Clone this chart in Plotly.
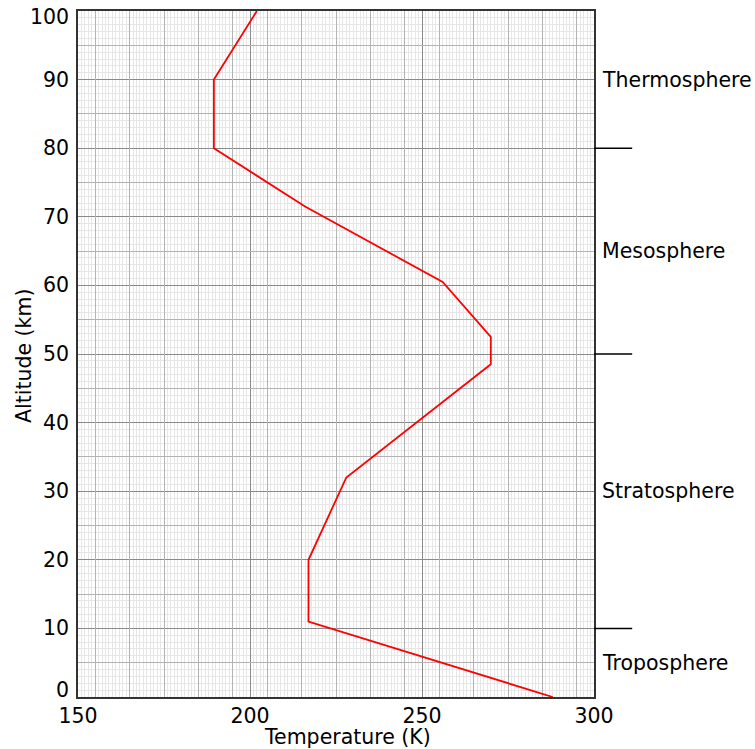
import plotly.graph_objects as go

# Temperature profile of the standard atmosphere
temperature_k = [288, 217, 217, 228, 270, 270, 256, 216, 189.5, 189.5, 202]
altitude_km = [0, 11, 20, 32, 48.5, 52.5, 60.5, 71.5, 80, 90, 100]

# Layer names and the altitudes where they are labelled
layer_names = ["Thermosphere", "Mesosphere", "Stratosphere", "Troposphere"]
layer_label_km = [90, 65, 30, 5]
# Boundaries between layers
boundary_km = [80, 50, 10]

x_ticks = [150, 200, 250, 300]
y_ticks = list(range(0, 101, 10))

FONT = "DejaVu Sans"
FS = 20.5

fig = go.Figure()

fig.add_trace(go.Scatter(
    x=temperature_k, y=altitude_km, mode="lines",
    line=dict(color="#ff0000", width=1.8),
    showlegend=False, hoverinfo="skip", cliponaxis=True,
))
# helper trace so the overlaid 5-unit grid axes are drawn
fig.add_trace(go.Scatter(x=[None], y=[None], xaxis="x2", yaxis="y2",
                         showlegend=False, hoverinfo="skip"))

common_minor = dict(dtick=1, showgrid=True, gridcolor="#e6e6e6", gridwidth=1, ticks="")

fig.update_layout(
    width=755, height=749,
    margin=dict(l=78, r=161, t=11, b=52),
    paper_bgcolor="white", plot_bgcolor="white",
    font=dict(family=FONT, size=FS, color="black"),
    xaxis=dict(
        range=[150, 300], tickvals=x_ticks, ticktext=[str(v) for v in x_ticks],
        showgrid=True, gridcolor="#8a8a8a", gridwidth=1,
        minor=common_minor, automargin=False,
        showline=True, linecolor="#333333", linewidth=1.5, mirror=True,
        ticks="", zeroline=False, tickfont=dict(size=FS),
    ),
    yaxis=dict(
        range=[0, 100], tickvals=y_ticks, showticklabels=False,
        showgrid=True, gridcolor="#8a8a8a", gridwidth=1,
        minor=common_minor, automargin=False,
        showline=True, linecolor="#333333", linewidth=1.5, mirror=True,
        ticks="", zeroline=False,
    ),
    xaxis2=dict(
        range=[150, 300], overlaying="x", anchor="y2", tick0=155, dtick=10,
        showgrid=True, gridcolor="#b3b3b3", gridwidth=1, automargin=False,
        showticklabels=False, ticks="", zeroline=False, showline=False,
    ),
    yaxis2=dict(
        range=[0, 100], overlaying="y", anchor="x2", tick0=5, dtick=10,
        showgrid=True, gridcolor="#b3b3b3", gridwidth=1, automargin=False,
        showticklabels=False, ticks="", zeroline=False, showline=False,
    ),
)

# Altitude tick labels; the end labels are nudged inside the axis span
for v in y_ticks:
    shift = 7 if v == y_ticks[0] else (-6 if v == y_ticks[-1] else 0)
    fig.add_annotation(text=str(v), xref="x domain", yref="y",
                       x=0, y=v, xshift=-7, yshift=shift,
                       xanchor="right", yanchor="middle", showarrow=False,
                       font=dict(family=FONT, size=FS, color="black"))

# Axis titles
fig.add_annotation(text="Temperature (K)", xref="x domain", yref="y domain",
                   x=0.5, y=0, xshift=11, yshift=-40,
                   xanchor="center", yanchor="middle", showarrow=False,
                   font=dict(family=FONT, size=FS, color="black"))
fig.add_annotation(text="Altitude (km)", xref="x domain", yref="y domain",
                   x=0, y=0.5, xshift=-54, yshift=-2, textangle=-90,
                   xanchor="center", yanchor="middle", showarrow=False,
                   font=dict(family=FONT, size=FS, color="black"))

# Boundary marks to the right of the plot
for b in boundary_km:
    fig.add_shape(type="line", xref="x domain", yref="y",
                  x0=1.0, x1=1.074, y0=b, y1=b,
                  line=dict(color="black", width=1.5))

for name, km in zip(layer_names, layer_label_km):
    fig.add_annotation(text=name, xref="x domain", yref="y",
                       x=1.012, y=km, xanchor="left", yanchor="middle",
                       showarrow=False, font=dict(family=FONT, size=FS, color="black"))

fig.write_html("out.html")
